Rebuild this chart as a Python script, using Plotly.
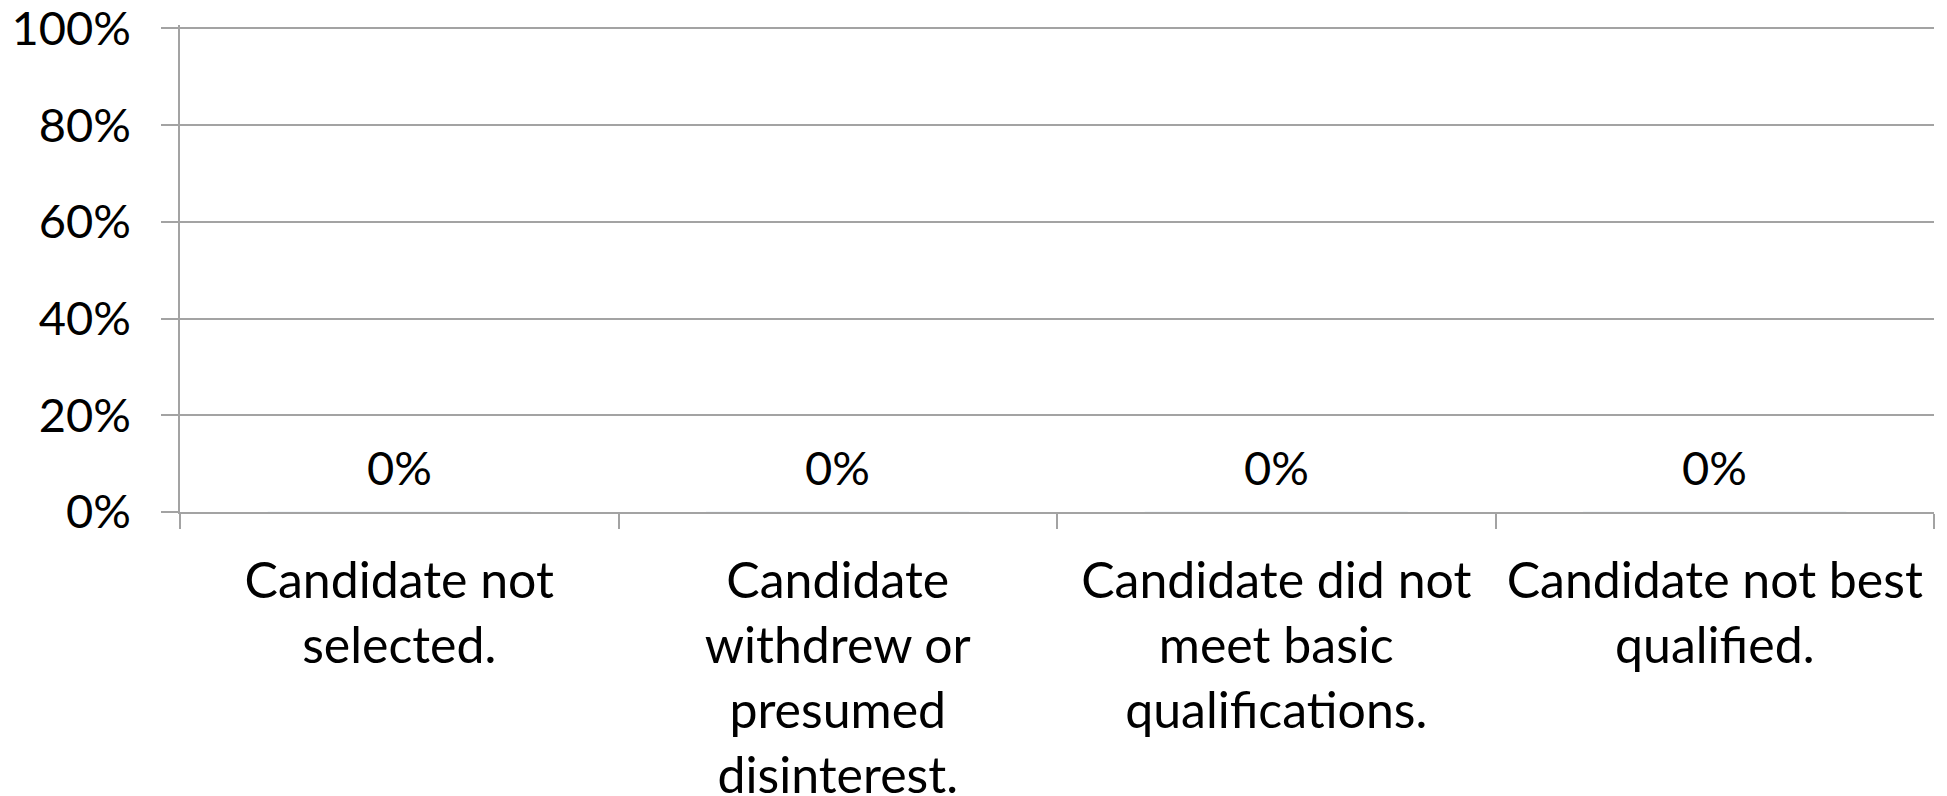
import plotly.graph_objects as go

# Reasons candidates were not hired, share of responses
categories = [
    "Candidate not<br>selected.",
    "Candidate<br>withdrew or<br>presumed<br>disinterest.",
    "Candidate did not<br>meet basic<br>qualifications.",
    "Candidate not best<br>qualified.",
]
shares = [0.0, 0.0, 0.0, 0.0]
y_ticks = [0.0, 0.2, 0.4, 0.6, 0.8, 1.0]

FONT = "Lato, 'Open Sans', sans-serif"
GRID = "#a3a3a3"

fig = go.Figure(
    go.Bar(
        x=categories,
        y=shares,
        marker=dict(color="#4f81bd"),
        width=0.6,
        hoverinfo="skip",
    )
)

# value labels above each bar
for cat, val in zip(categories, shares):
    fig.add_annotation(
        x=cat,
        y=val,
        text=f"{val:.0%}",
        showarrow=False,
        yshift=45,
        font=dict(family=FONT, size=47, color="black"),
    )

fig.update_layout(
    width=1947,
    height=796,
    margin=dict(l=180, r=13, t=25, b=284, autoexpand=False),
    paper_bgcolor="white",
    plot_bgcolor="white",
    showlegend=False,
    font=dict(family=FONT, size=47, color="black"),
)

fig.update_xaxes(
    type="category",
    automargin=False,
    showgrid=False,
    showline=True,
    linecolor=GRID,
    linewidth=1.5,
    ticks="outside",
    tickson="boundaries",
    ticklen=15,
    tickcolor=GRID,
    tickwidth=1.5,
    ticklabelstandoff=24,
    ticklabeloverflow="allow",
    tickfont=dict(family=FONT, size=50, color="black"),
)

# range reaches just past 100% so the top gridline is kept
fig.update_yaxes(
    range=[0, 1.007],
    tickvals=y_ticks,
    tickformat=".0%",
    automargin=False,
    showgrid=True,
    gridcolor=GRID,
    gridwidth=1.5,
    showline=True,
    linecolor=GRID,
    linewidth=1.5,
    mirror=False,
    ticks="outside",
    ticklen=17,
    tickcolor=GRID,
    tickwidth=1.5,
    ticklabelstandoff=21,
    ticklabeloverflow="allow",
    zeroline=False,
    tickfont=dict(family=FONT, size=47, color="black"),
)

fig.write_html("out.html")
